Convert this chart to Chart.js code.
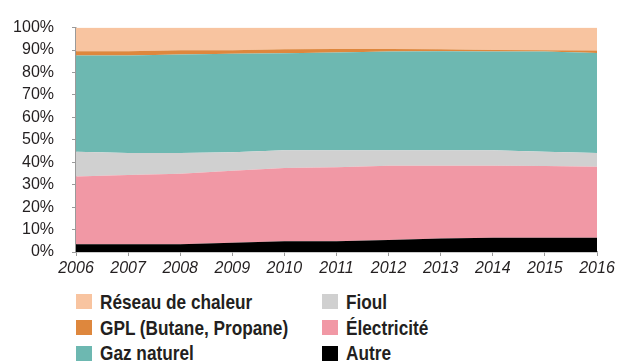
<!DOCTYPE html>
<html lang="fr">
<head>
    <meta charset="UTF-8">
    <title>Énergie de chauffage 2006-2016</title>
    <style>
        * {
            margin: 0;
            padding: 0;
            box-sizing: border-box;
        }

        body {
            background: #ffffff;
            width: 623px;
            height: 364px;
            overflow: hidden;
            font-family: 'Liberation Sans', Arial, sans-serif;
            color: #231f20;
        }

        .graphique {
            position: absolute;
            left: 0;
            top: 0;
            width: 623px;
            height: 280px;
        }

        .legende {
            position: absolute;
            left: 76px;
            top: 289px;
            display: grid;
            grid-template-columns: 246px 200px;
            grid-auto-flow: column;
            grid-template-rows: repeat(3, 25.8px);
        }

        .legende div {
            display: flex;
            align-items: center;
            white-space: nowrap;
            overflow: visible;
        }

        .legende .case {
            display: inline-block;
            flex-shrink: 0;
            width: 16px;
            height: 15px;
            margin-right: 8px;
        }

        /* texte resserré, façon police condensée */
        .legende .texte {
            display: inline-block;
            flex-shrink: 0;
            font-size: 21px;
            font-weight: bold;
            transform: scaleX(0.82);
            transform-origin: left center;
        }
    </style>
    <script src="https://cdn.jsdelivr.net/npm/chart.js"></script>
</head>
<body>
    <div class="graphique">
        <canvas id="graphique"></canvas>
    </div>
    <div class="legende" id="legende"></div>
    <script>
        // parts (%) de chaque énergie, de bas en haut
        const annees = ['2006', '2007', '2008', '2009', '2010', '2011', '2012', '2013', '2014', '2015', '2016'];
        const autre = [3.4, 3.4, 3.4, 4.1, 4.8, 4.8, 5.4, 6.0, 6.4, 6.4, 6.4];
        const electricite = [30.2, 30.9, 31.5, 32.1, 32.6, 33.0, 33.0, 32.4, 32.0, 31.9, 31.6];
        const fioul = [11.1, 9.8, 9.2, 8.3, 7.9, 7.5, 6.9, 6.9, 6.9, 6.4, 6.1];
        const gazNaturel = [42.9, 43.5, 43.9, 43.8, 43.3, 43.6, 44.0, 44.2, 44.1, 44.6, 44.6];
        const gpl = [1.9, 1.9, 1.9, 1.6, 1.8, 1.6, 1.2, 0.9, 0.6, 0.6, 1.1];
        const reseauChaleur = [10.5, 10.5, 10.1, 10.1, 9.6, 9.5, 9.5, 9.6, 10.0, 10.1, 10.2];
        const graduations = [0, 10, 20, 30, 40, 50, 60, 70, 80, 90, 100];

        const series = [
            { label: 'Autre', data: autre, couleur: '#000000' },
            { label: 'Électricité', data: electricite, couleur: '#f198a5' },
            { label: 'Fioul', data: fioul, couleur: '#d0d0d0' },
            { label: 'Gaz naturel', data: gazNaturel, couleur: '#6db8b1' },
            { label: 'GPL (Butane, Propane)', data: gpl, couleur: '#de873d' },
            { label: 'Réseau de chaleur', data: reseauChaleur, couleur: '#f8c4a0' }
        ];

        const gris = '#9a9a9a';
        const police = "'Liberation Sans', Arial, sans-serif";

        const ctx = document.getElementById('graphique').getContext('2d');
        new Chart(ctx, {
            type: 'line',
            data: {
                labels: annees,
                datasets: series.map((s, i) => ({
                    label: s.label,
                    data: s.data,
                    backgroundColor: s.couleur,
                    borderColor: s.couleur,
                    borderWidth: 0,
                    pointRadius: 0,
                    tension: 0,
                    fill: i === 0 ? 'origin' : '-1'
                }))
            },
            options: {
                responsive: true,
                maintainAspectRatio: false,
                animation: false,
                layout: {
                    padding: { top: 15, right: 26, left: 0, bottom: 0 }
                },
                plugins: {
                    legend: { display: false },
                    tooltip: { enabled: false }
                },
                scales: {
                    x: {
                        offset: false,
                        afterFit: (scale) => { scale.height = 28; },
                        grid: {
                            drawOnChartArea: false,
                            color: gris,
                            tickLength: 4
                        },
                        border: { color: gris, width: 1.5 },
                        ticks: {
                            color: '#231f20',
                            padding: 3,
                            maxRotation: 0,
                            autoSkip: false,
                            font: { family: police, size: 16, style: 'italic' }
                        }
                    },
                    y: {
                        stacked: true,
                        min: 0,
                        max: 100,
                        afterFit: (scale) => { scale.width = 76; },
                        afterBuildTicks: (scale) => {
                            scale.ticks = graduations.map(v => ({ value: v }));
                        },
                        grid: {
                            drawOnChartArea: false,
                            color: gris,
                            tickLength: 4
                        },
                        border: { color: gris, width: 1.5 },
                        ticks: {
                            color: '#231f20',
                            padding: 18,
                            autoSkip: false,
                            font: { family: police, size: 16 },
                            callback: (v) => v + '%'
                        }
                    }
                }
            }
        });

        // légende sur deux colonnes, dans l'ordre de lecture du haut
        const ordreLegende = [5, 4, 3, 2, 1, 0];
        const legende = document.getElementById('legende');
        ordreLegende.forEach(i => {
            const item = document.createElement('div');
            item.innerHTML = `<span class="case" style="background:${series[i].couleur}"></span><span class="texte">${series[i].label}</span>`;
            legende.appendChild(item);
        });
    </script>
</body>
</html>
